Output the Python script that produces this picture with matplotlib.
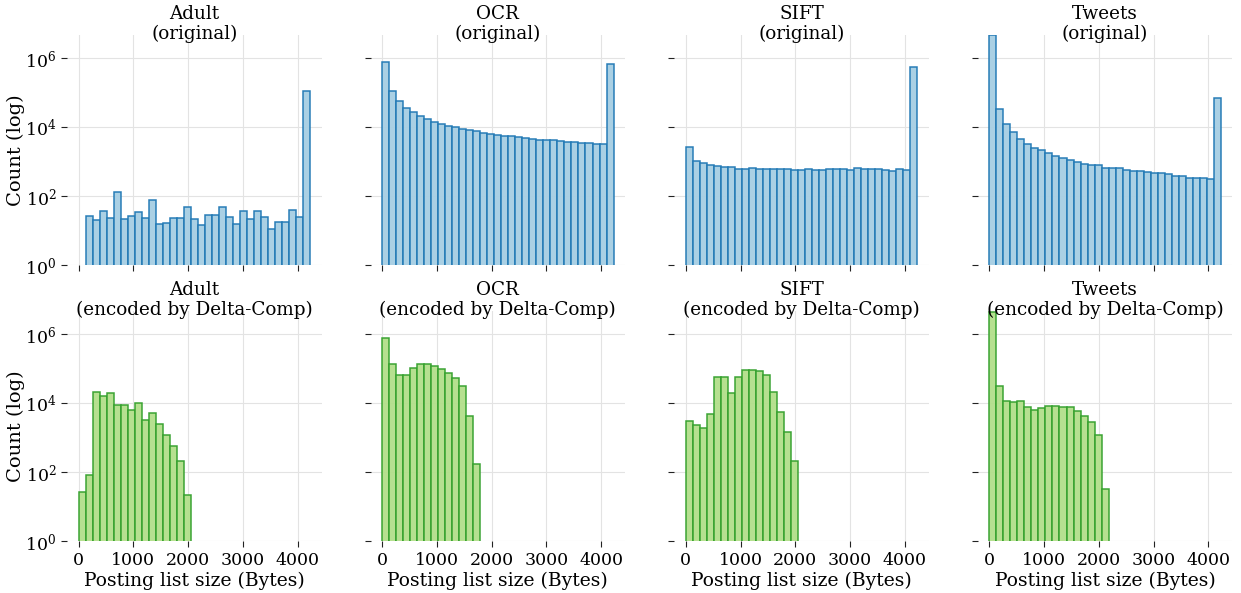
import numpy as np
import matplotlib
matplotlib.use("Agg")
import matplotlib.pyplot as plt
from matplotlib.ticker import NullLocator

plt.rcParams['font.family'] = ['DejaVu Serif']
plt.rcParams['mathtext.fontset'] = 'dejavuserif'

datasets = ["Adult", "OCR", "SIFT", "Tweets"]
bin_width = 128

# original posting lists: first bin start (bytes) and counts per 128-byte bin
orig_start = {"Adult": 128, "OCR": 0, "SIFT": 0, "Tweets": 0}
adult_orig = [26, 20, 36, 24, 128, 22, 27, 34, 24, 78, 16, 17, 24, 23, 49, 22,
              15, 29, 29, 48, 25, 16, 37, 22, 38, 25, 11, 18, 18, 39, 25, 108000]
ocr_orig = [780000, 108000, 55000, 36500, 26600, 20400, 17000, 14300, 12500, 10900,
            9800, 8930, 7990, 7500, 6850, 6260, 5850, 5600, 5350, 5010, 4800, 4380,
            4290, 4100, 4100, 3930, 3670, 3600, 3520, 3360, 3290, 3290, 685000]
sift_orig = [2690, 1030, 888, 777, 726, 694, 694, 620, 620, 634, 593, 593, 620, 606,
             593, 567, 567, 620, 567, 555, 606, 606, 593, 555, 634, 593, 593, 593,
             567, 542, 606, 567, 562000]
tweets_orig = [4640000, 32500, 12500, 7000, 4600, 3220, 2510, 2100, 1730, 1480, 1290,
               1100, 944, 846, 810, 776, 648, 648, 662, 567, 519, 530, 497, 456, 456,
               435, 389, 389, 326, 326, 326, 318, 68000]

# encoded by Delta-Comp, bins start at 0
adult_enc = [27, 83, 21900, 16700, 19500, 8950, 9150, 6600, 10300, 3300, 5400, 2530,
             1220, 574, 207, 22]
ocr_enc = [795000, 141000, 66000, 66000, 103000, 135000, 138000, 123000, 101000,
           77500, 54000, 32600, 4240, 180]
sift_enc = [2970, 2370, 1980, 4830, 56700, 59400, 20000, 59400, 93000, 95000, 85000,
            68000, 21300, 5640, 1450, 211]
tweets_enc = [4400000, 31900, 11700, 10700, 11700, 7560, 6440, 7200, 8520, 8220, 8050,
              7560, 5880, 4420, 2820, 1190, 32]

original = {"Adult": adult_orig, "OCR": ocr_orig, "SIFT": sift_orig, "Tweets": tweets_orig}
encoded = {"Adult": adult_enc, "OCR": ocr_enc, "SIFT": sift_enc, "Tweets": tweets_enc}

fig, axes = plt.subplots(2, 4, figsize=(12.41, 5.93), dpi=100, sharex=True, sharey=True)
fig.subplots_adjust(left=0.054, right=0.993, top=0.941, bottom=0.087,
                    wspace=0.193, hspace=0.2)

styles = [("#a6cee3", "#1f78b4", "original"),
          ("#b2df8a", "#33a02c", "encoded by Delta-Comp")]

for row, (face, edge, label) in enumerate(styles):
    for col, name in enumerate(datasets):
        ax = axes[row, col]
        if row == 0:
            counts = np.array(original[name])
            start = orig_start[name]
        else:
            counts = np.array(encoded[name])
            start = 0
        edges = start + bin_width * np.arange(len(counts))
        ax.bar(edges, counts, width=bin_width, align='edge', color=face,
               edgecolor=edge, linewidth=1.1, alpha=0.95, zorder=2)
        ax.set_yscale('log')
        ax.set_title(f"{name}\n({label})", fontsize=13.2, y=0.982, pad=0,
                     linespacing=1.15)
        for s in ax.spines.values():
            s.set_visible(False)
        ax.grid(True, color='#e3e3e3', linewidth=0.8, zorder=0)
        ax.set_axisbelow(True)
        ax.tick_params(axis='both', length=4, width=0.8, color='#222222',
                       labelsize=12.5)
        if col == 0:
            ax.set_ylabel("Count (log)", fontsize=14, labelpad=0)
        if row == 1:
            ax.set_xlabel("Posting list size (Bytes)", fontsize=13.5, labelpad=2)

ax0 = axes[0, 0]
ax0.set_yticks([1, 1e2, 1e4, 1e6])
ax0.yaxis.set_minor_locator(NullLocator())
ax0.set_ylim(1, 4.64e6)
ax0.set_xticks([0, 1000, 2000, 3000, 4000])

plt.savefig("out.png", dpi=100)
